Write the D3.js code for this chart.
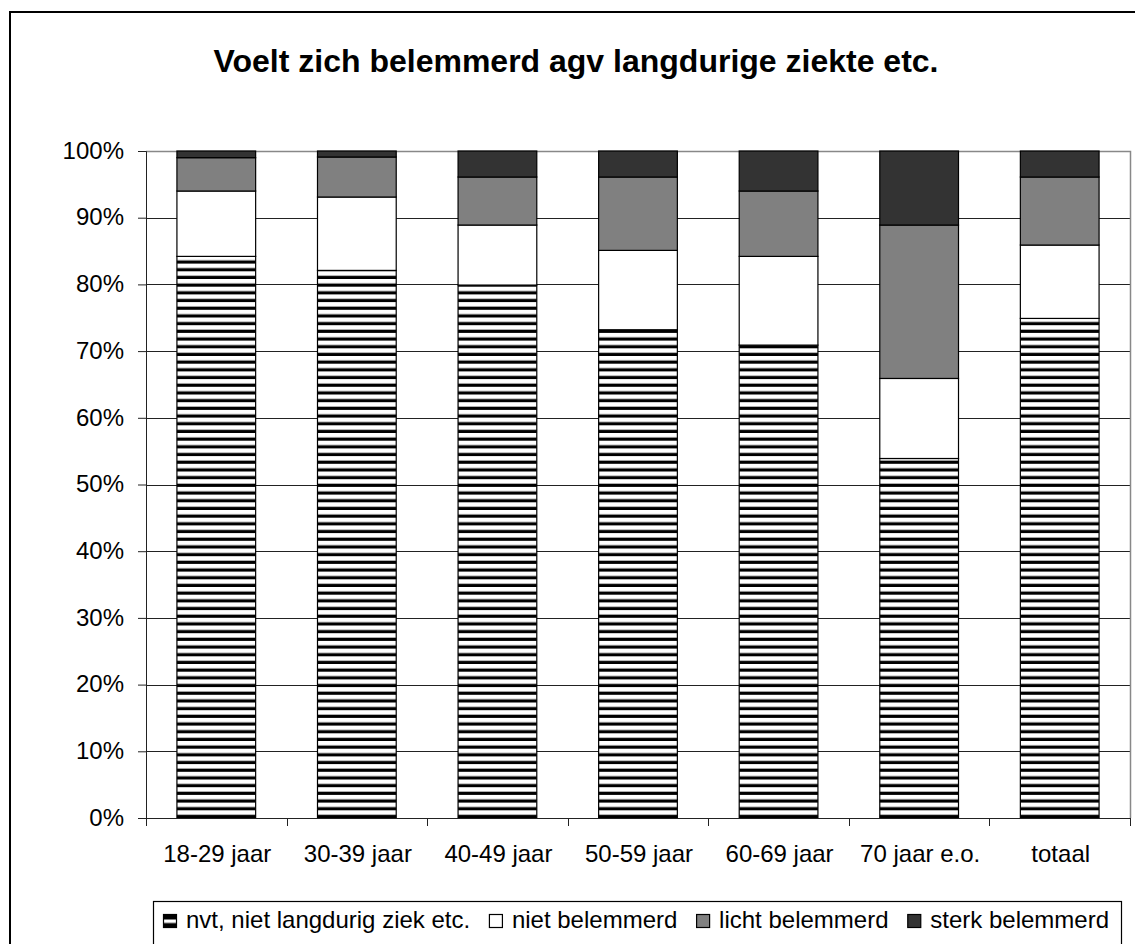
<!DOCTYPE html>
<html>
<head>
<meta charset="utf-8">
<script src="https://cdn.jsdelivr.net/npm/d3@7"></script>
<style>
  body { margin: 0; background: #fff; }
  svg { display: block; font-family: "Liberation Sans", Arial, sans-serif; }
</style>
</head>
<body>
<div id="viz"></div>
<script>
const categories = ['18-29 jaar', '30-39 jaar', '40-49 jaar', '50-59 jaar', '60-69 jaar', '70 jaar e.o.', 'totaal'];
const seriesNames = ['nvt, niet langdurig ziek etc.', 'niet belemmerd', 'licht belemmerd', 'sterk belemmerd'];
const nvt = [84.2, 82.1, 79.9, 73.2, 70.9, 53.9, 74.9];
const nietBelemmerd = [9.8, 11, 9, 11.9, 13.3, 12, 11];
const lichtBelemmerd = [5, 6, 7.2, 11, 9.8, 23, 10.2];
const sterkBelemmerd = [1, 0.9, 3.9, 3.9, 6, 11.1, 3.9];
const yTicks = [0, 10, 20, 30, 40, 50, 60, 70, 80, 90, 100];

const WIDTH = 1135;
const HEIGHT = 944;
const PLOT = { left: 146, right: 1130, top: 151, bottom: 818 };
const FILLS = ['url(#stripes)', '#ffffff', '#808080', '#333333'];

const svg = d3.select('#viz').append('svg')
  .attr('width', WIDTH)
  .attr('height', HEIGHT);

// striped fill for the first series
const pat = svg.append('defs').append('pattern')
  .attr('id', 'stripes')
  .attr('patternUnits', 'userSpaceOnUse')
  .attr('x', 0)
  .attr('y', PLOT.bottom)
  .attr('width', 8)
  .attr('height', 7.7);
pat.append('rect').attr('width', 8).attr('height', 7.7).attr('fill', '#fff');
pat.append('rect').attr('y', 4.5).attr('width', 8).attr('height', 3.2).attr('fill', '#000');

// outer chart border (runs off the right and bottom of the picture)
svg.append('rect')
  .attr('x', 10).attr('y', 12)
  .attr('width', 1132).attr('height', 960)
  .attr('fill', 'none')
  .attr('stroke', '#000')
  .attr('stroke-width', 2);

svg.append('text')
  .attr('x', 576)
  .attr('y', 72)
  .attr('text-anchor', 'middle')
  .attr('font-size', 32)
  .attr('font-weight', 'bold')
  .text('Voelt zich belemmerd agv langdurige ziekte etc.');

const rows = categories.map((c, i) => ({
  cat: c,
  s0: nvt[i], s1: nietBelemmerd[i], s2: lichtBelemmerd[i], s3: sterkBelemmerd[i]
}));
const stacked = d3.stack().keys(['s0', 's1', 's2', 's3'])(rows);

const x = d3.scaleBand()
  .domain(categories)
  .range([PLOT.left, PLOT.right])
  .paddingInner(0.44)
  .paddingOuter(0.22);

const y = d3.scaleLinear()
  .domain([0, 100])
  .range([PLOT.bottom, PLOT.top]);

// gridlines
svg.append('g')
  .selectAll('line')
  .data(yTicks.filter(t => t > 0 && t < 100))
  .join('line')
    .attr('x1', PLOT.left).attr('x2', PLOT.right)
    .attr('y1', d => Math.round(y(d)) + 0.5)
    .attr('y2', d => Math.round(y(d)) + 0.5)
    .attr('stroke', '#222')
    .attr('stroke-width', 1);

// plot area top and right edge
svg.append('path')
  .attr('d', `M${PLOT.left},${PLOT.top + 0.5}H${PLOT.right + 0.5}V${PLOT.bottom}`)
  .attr('fill', 'none')
  .attr('stroke', '#888')
  .attr('stroke-width', 1.5);

// bars
svg.append('g')
  .selectAll('g')
  .data(stacked)
  .join('g')
    .attr('fill', (d, i) => FILLS[i])
  .selectAll('rect')
  .data(d => d)
  .join('rect')
    .attr('x', d => x(d.data.cat))
    .attr('y', d => y(d[1]))
    .attr('width', x.bandwidth())
    .attr('height', d => y(d[0]) - y(d[1]))
    .attr('stroke', '#000')
    .attr('stroke-width', 1.2);

// y axis
const yAxis = svg.append('g')
  .attr('transform', `translate(${PLOT.left},0)`)
  .call(d3.axisLeft(y)
    .tickValues(yTicks)
    .tickFormat(d => d + '%')
    .tickSize(8)
    .tickPadding(14));
yAxis.select('.domain').attr('stroke', '#222');
yAxis.selectAll('.tick line').attr('stroke', '#222');
yAxis.selectAll('.tick text')
  .attr('font-size', 24)
  .attr('font-family', '"Liberation Sans", Arial, sans-serif')
  .attr('fill', '#000')
  .attr('dy', '0.3em');

// x axis: line, ticks at category boundaries, labels centered
const gap = x.step() - x.bandwidth();
const bounds = categories.map(c => x(c) - gap / 2).concat([PLOT.right]);
const xAxis = svg.append('g');
xAxis.append('line')
  .attr('x1', PLOT.left).attr('x2', PLOT.right)
  .attr('y1', PLOT.bottom + 0.5).attr('y2', PLOT.bottom + 0.5)
  .attr('stroke', '#222');
xAxis.selectAll('line.tk')
  .data(bounds)
  .join('line')
    .attr('class', 'tk')
    .attr('x1', d => Math.round(d) + 0.5).attr('x2', d => Math.round(d) + 0.5)
    .attr('y1', PLOT.bottom).attr('y2', PLOT.bottom + 8)
    .attr('stroke', '#222');
xAxis.selectAll('text')
  .data(categories)
  .join('text')
    .attr('x', d => x(d) + x.bandwidth() / 2 + 1)
    .attr('y', 862)
    .attr('text-anchor', 'middle')
    .attr('font-size', 24)
    .text(d => d);

// legend
const legend = svg.append('g');
legend.append('rect')
  .attr('x', 153.5).attr('y', 901.5)
  .attr('width', 968).attr('height', 80)
  .attr('fill', '#fff')
  .attr('stroke', '#000')
  .attr('stroke-width', 1.2);

const items = legend.selectAll('g.item')
  .data(seriesNames)
  .join('g')
    .attr('class', 'item');
items.append('rect')
  .attr('width', 13).attr('height', 13)
  .attr('y', 914.5)
  .attr('fill', (d, i) => i === 0 ? 'url(#legstripes)' : FILLS[i])
  .attr('stroke', '#000')
  .attr('stroke-width', 1.2);
items.append('text')
  .attr('y', 928)
  .attr('font-size', 24)
  .text(d => d);

// legend pattern: one white band inside dark marker
const lp = svg.select('defs').append('pattern')
  .attr('id', 'legstripes')
  .attr('patternUnits', 'userSpaceOnUse')
  .attr('x', 0).attr('y', 914.5)
  .attr('width', 13).attr('height', 13);
lp.append('rect').attr('width', 13).attr('height', 13).attr('fill', '#000');
lp.append('rect').attr('y', 5).attr('width', 13).attr('height', 3.5).attr('fill', '#fff');

const startX = 163;
const endX = 1109;
const widths = [];
items.selectAll('text').each(function() { widths.push(this.getComputedTextLength()); });
const contentW = d3.sum(widths) + seriesNames.length * (13 + 10);
const itemGap = (endX - startX - contentW) / (seriesNames.length - 1);
let cx = startX;
items.each(function(d, i) {
  const g = d3.select(this);
  g.select('rect').attr('x', cx + 0.5);
  g.select('text').attr('x', cx + 23);
  cx += 23 + widths[i] + itemGap;
});
</script>
</body>
</html>
